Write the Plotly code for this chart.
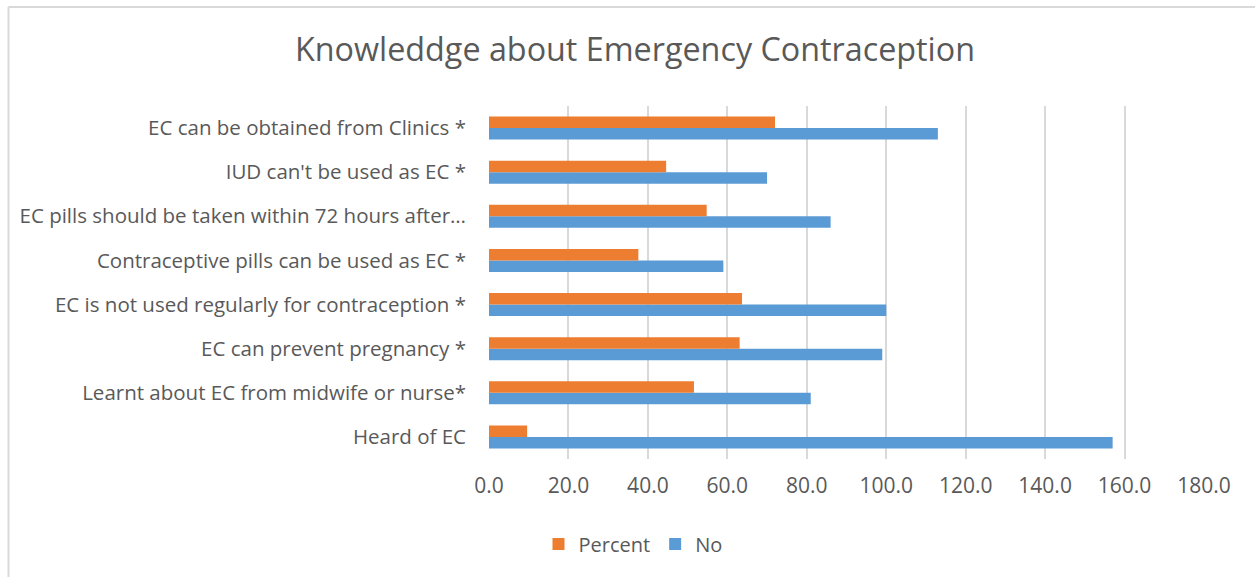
import plotly.graph_objects as go

# Categories listed bottom-to-top (Plotly places the first category at the bottom)
categories = [
    "Heard of EC",
    "Learnt about EC from midwife or nurse*",
    "EC can prevent pregnancy *",
    "EC is not used regularly for contraception *",
    "Contraceptive pills can be used as EC *",
    "EC pills should be taken within 72 hours after…",
    "IUD can't be used as EC *",
    "EC can be obtained from Clinics *",
]
no_values = [157, 81, 99, 100, 59, 86, 70, 113]
percent_values = [9.6, 51.6, 63.1, 63.7, 37.6, 54.8, 44.6, 72.0]
x_ticks = [0, 20, 40, 60, 80, 100, 120, 140, 160, 180]
x_tick_labels = ["%.1f" % v for v in x_ticks]

W, H = 1255, 577
L, R = 489, 1204
T, B = 106, 459
pw, ph = R - L, B - T

def px_x(p):
    return (p - L) / pw

def px_y(p):
    return (B - p) / ph

FONT = "Open Sans"
GREY = "#595959"

fig = go.Figure()
fig.add_trace(go.Bar(
    y=categories, x=no_values, name="No", orientation="h",
    marker=dict(color="#5B9BD5", line=dict(width=0)),
))
fig.add_trace(go.Bar(
    y=categories, x=percent_values, name="Percent", orientation="h",
    marker=dict(color="#ED7D31", line=dict(width=0)),
))

fig.update_layout(
    width=W, height=H,
    margin=dict(l=L, r=W - R, t=T, b=H - B, pad=0, autoexpand=False),
    paper_bgcolor="white", plot_bgcolor="white",
    barmode="group", bargap=0.48, bargroupgap=0,
    font=dict(family=FONT, color=GREY, size=20.5),
    title=dict(
        text="Knowleddge about Emergency Contraception",
        x=px_x(635), xref="paper", xanchor="center",
        y=1 - 50 / H, yref="container", yanchor="middle",
        font=dict(family=FONT, size=32.3, color=GREY),
    ),
    showlegend=True,
    legend=dict(
        orientation="h", traceorder="reversed",
        x=px_x(633), xanchor="center", y=px_y(544), yanchor="middle",
        font=dict(family=FONT, size=20, color=GREY),
        itemwidth=30, bgcolor="rgba(0,0,0,0)",
    ),
    xaxis=dict(
        range=[0, 180], tickvals=x_ticks, ticktext=x_tick_labels,
        showgrid=True, gridcolor="#d9d9d9", gridwidth=1.5,
        zeroline=False, showline=False, ticks="",
        ticklabelstandoff=12, automargin=False,
        tickfont=dict(family=FONT, size=21, color=GREY),
        fixedrange=True,
    ),
    yaxis=dict(
        type="category", categoryorder="array", categoryarray=categories,
        showgrid=False, zeroline=False, showline=False, ticks="",
        ticklabelstandoff=22, automargin=False,
        tickfont=dict(family=FONT, size=20.5, color=GREY),
        fixedrange=True,
    ),
    shapes=[
        dict(type="line", xref="paper", yref="paper",
             x0=px_x(8.5), x1=px_x(1300), y0=px_y(7), y1=px_y(7),
             line=dict(color="#d9d9d9", width=2)),
        dict(type="line", xref="paper", yref="paper",
             x0=px_x(8.5), x1=px_x(8.5), y0=px_y(7), y1=px_y(620),
             line=dict(color="#d9d9d9", width=2)),
    ],
)

fig.write_html("out.html", config={"displayModeBar": False})
